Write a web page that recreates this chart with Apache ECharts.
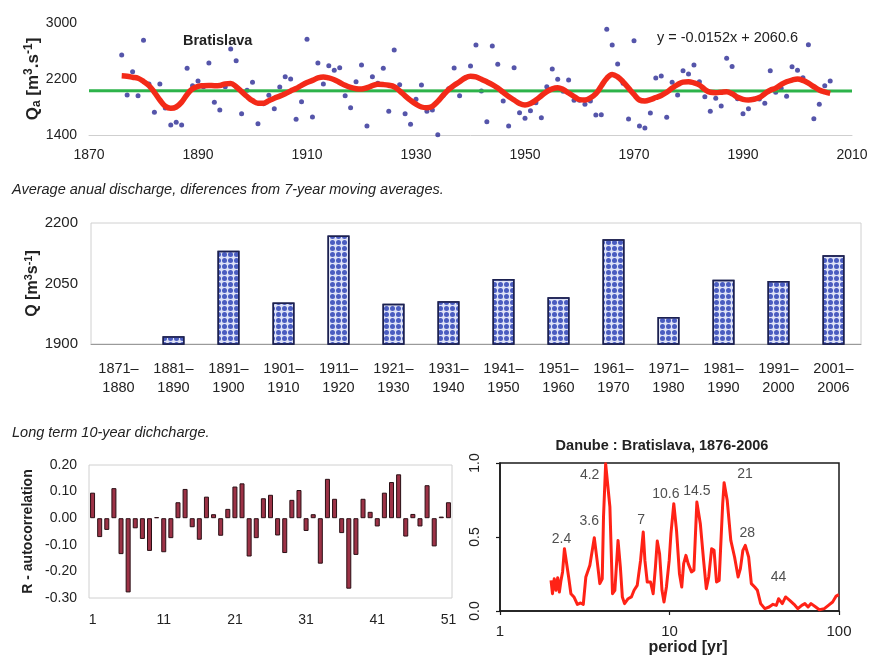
<!DOCTYPE html>
<html>
<head>
<meta charset="utf-8">
<script src="https://cdn.jsdelivr.net/npm/echarts@6/dist/echarts.min.js"></script>
<style>
  html, body { margin: 0; padding: 0; background: #ffffff; }
  #chart { width: 874px; height: 658px; }
</style>
</head>
<body>
<div id="chart"></div>
<script>
// ---------- Annual discharge, Danube at Bratislava ----------
const firstYear = 1876;
const annualQ = [
  2543, 1971, 2304, 1962, 2753, 2129, 1724, 2129, 1786, 1543,   // 1876-1885
  1581, 1543, 2352, 2105, 2171, 2090, 2428, 1867, 1757, 2090,   // 1886-1895
  2628, 2461, 1705, 2040, 2152, 1562, 1848, 1967, 1776, 2086,   // 1896-1905
  2233, 2200, 1624, 1876, 2767, 1657, 2428, 2129, 2390, 2324,   // 1906-1915
  2362, 1962, 1790, 2162, 2400, 1529, 2233, 2138, 2352, 1738,   // 1916-1925
  2614, 2119, 1705, 1552, 1910, 2114, 1738, 1757, 1405, 1967,   // 1926-1935
  2062, 2357, 1962, 2214, 2386, 2686, 2030, 1590, 2671, 2410,   // 1936-1945
  1886, 1529, 2362, 1719, 1638, 1748, 1860, 1648, 2090, 2343,   // 1946-1955
  2195, 2024, 2186, 1895, 1895, 1838, 1886, 1686, 1690, 2910,   // 1956-1965
  2686, 2414, 2140, 1629, 2747, 1529, 1500, 1714, 2214, 2243,   // 1966-1975
  1652, 2152, 1971, 2319, 2271, 2400, 2160, 1945, 1738, 1924,   // 1976-1985
  1816, 2495, 2380, 1919, 1705, 1776, 1910, 1914, 1852, 2319,   // 1986-1995
  2012, 2067, 1952, 2376, 2324, 2219, 2690, 1633, 1838, 2102,   // 1996-2005
  2173                                                          // 2006
];
// 7-year moving average of the annual series
const movingAvg = [
  2247, 2240, 2225, 2210, 2165, 2105, 2010, 1900, 1810, 1782,
  1800, 1870, 1980, 2060, 2095, 2105, 2108, 2105, 2108, 2130,
  2135, 2090, 2020, 1950, 1890, 1855, 1855, 1890, 1925, 1955,
  1990, 2030, 2065, 2110, 2150, 2180, 2215, 2229, 2215, 2190,
  2150, 2110, 2080, 2062, 2057, 2075, 2105, 2124, 2120, 2110,
  2090, 2030, 1960, 1895, 1840, 1800, 1790, 1810, 1880, 1970,
  2050, 2110, 2160, 2215, 2240, 2230, 2195, 2160, 2120, 2070,
  2010, 1950, 1900, 1850, 1829, 1850, 1900, 1960, 2020, 2060,
  2076, 2050, 2000, 1950, 1905, 1900, 1930, 1990, 2100, 2210,
  2265, 2230, 2160, 2070, 1980, 1900, 1885, 1905, 1935, 1965,
  2010, 2070, 2120, 2155, 2162, 2145, 2114, 2050, 2010, 2005,
  2012, 2019, 1990, 1940, 1910, 1900, 1910, 1935, 1990, 2040,
  2070, 2120, 2160, 2185, 2200, 2180, 2140, 2090, 2043, 2015,
  1995
];
// linear trend fitted to the annual series
const trendSlope = -0.0152;
const trendIntercept = 2060.6;
const yearAxisRange = [1870, 2010];

// ---------- Decade means ----------
const decades = [
  '1871–\n1880', '1881–\n1890', '1891–\n1900', '1901–\n1910', '1911–\n1920',
  '1921–\n1930', '1931–\n1940', '1941–\n1950', '1951–\n1960', '1961–\n1970',
  '1971–\n1980', '1981–\n1990', '1991–\n2000', '2001–\n2006'
];
const decadeQ = [null, 1919, 2131, 2003, 2169, 2000, 2006, 2061, 2016, 2160, 1967, 2059, 2056, 2120];

// ---------- Autocorrelation of annual discharge, lags 1-51 ----------
const lags = Array.from({ length: 51 }, (_, i) => String(i + 1));
const acf = [
   0.096, -0.071, -0.044,  0.113, -0.135, -0.279, -0.038, -0.078, -0.123,  0.004,
  -0.128, -0.075,  0.060,  0.110, -0.034, -0.081,  0.081,  0.015, -0.066,  0.035,
   0.119,  0.131, -0.144, -0.075,  0.075,  0.088, -0.065, -0.131,  0.069,  0.106,
  -0.048,  0.015, -0.171,  0.148,  0.073, -0.056, -0.265, -0.138,  0.073,  0.024,
  -0.031,  0.096,  0.136,  0.165, -0.069,  0.016, -0.031,  0.124, -0.106,  0.006,
   0.060
];

// ---------- Normalised spectrum vs period ----------
const periods = [
  2.00, 2.04, 2.09, 2.14, 2.19, 2.24, 2.29, 2.34, 2.40, 2.54,
  2.62, 2.73, 2.86, 2.99, 3.10, 3.21, 3.39, 3.60, 3.74, 3.88,
  4.01, 4.08, 4.20, 4.45, 4.61, 4.76, 4.97, 5.13, 5.27, 5.43,
  5.70, 5.96, 6.18, 6.45, 6.75, 7.00, 7.16, 7.39, 7.73, 8.01,
  8.26, 8.47, 8.74, 9.03, 9.28, 9.59, 9.96, 10.2, 10.6, 11.0,
  11.45, 11.81, 12.12, 12.50, 12.89, 13.48, 13.93, 14.5, 15.2, 15.89,
  16.49, 17.03, 17.73, 18.32, 18.94, 19.63, 20.0, 20.6, 21.0, 21.9,
  23.0, 24.2, 25.4, 26.2, 27.1, 28.0, 29.3, 30.4, 31.8, 33.0,
  34.5, 36.5, 38.7, 40.8, 42.7, 44.0, 46.3, 48.4, 51.2, 54.3,
  57.2, 60.3, 62.9, 65.7, 68.4, 72.9, 76.6, 81.9, 86.6, 91.7,
  96.2, 99.8
];
const power = [
  0.207, 0.117, 0.218, 0.140, 0.225, 0.128, 0.207, 0.264, 0.421, 0.230,
  0.117, 0.095, 0.045, 0.054, 0.045, 0.230, 0.309, 0.495, 0.342, 0.185,
  0.218, 0.635, 0.995, 0.703, 0.117, 0.140, 0.477, 0.297, 0.095, 0.050,
  0.083, 0.095, 0.140, 0.173, 0.342, 0.534, 0.342, 0.196, 0.196, 0.117,
  0.297, 0.473, 0.387, 0.140, 0.061, 0.162, 0.342, 0.523, 0.725, 0.545,
  0.252, 0.162, 0.320, 0.376, 0.320, 0.264, 0.275, 0.736, 0.590, 0.342,
  0.151, 0.230, 0.421, 0.410, 0.196, 0.207, 0.410, 0.725, 0.867, 0.748,
  0.477, 0.365, 0.230, 0.286, 0.410, 0.444, 0.365, 0.185, 0.162, 0.140,
  0.050, 0.016, 0.027, 0.045, 0.038, 0.083, 0.050, 0.095, 0.072, 0.045,
  0.016, 0.038, 0.050, 0.027, 0.050, 0.027, 0.009, 0.016, 0.038, 0.061,
  0.101, 0.110
];
const peakPeriods = [2.4, 3.6, 4.2, 7, 10.6, 14.5, 21, 28, 44];

// ---------- drawing ----------
const FONT = '"Liberation Sans", Arial, Helvetica, sans-serif';
const INK = '#222222';
const plain = v => String(v);

// pixel nudges of the peak captions relative to the peak they name
const peakLabelOffset = {
  2.4: [-3, -10], 3.6: [-5, -17], 4.2: [-16, 11], 7: [-2, -12], 10.6: [-8, -10],
  14.5: [0, -11], 21: [21, -9], 28: [2, -12], 44: [0, -22]
};

const annualPoints = annualQ.map((q, i) => [firstYear + i, q]);
const avgPoints = movingAvg.map((q, i) => [firstYear + i, q]);
const trendPoints = yearAxisRange.map(y => [y, trendIntercept + trendSlope * y]);
const spectrum = periods.map((p, i) => [p, power[i]]);
const peakPoints = peakPeriods.map(p => {
  const i = periods.indexOf(p);
  const v = i >= 0 ? power[i] : 0;
  return { value: [p, v], label: { offset: peakLabelOffset[p] } };
});

const equationText = 'y = ' + trendSlope.toFixed(4) + 'x + ' + trendIntercept.toFixed(1);

function titleRich(size) {
  return {
    b: { fontSize: size, fontWeight: 'bold', fontFamily: FONT, color: INK, lineHeight: size + 3 },
    sup: { fontSize: size - 5, fontWeight: 'bold', fontFamily: FONT, color: INK, verticalAlign: 'top', lineHeight: size + 3 },
    sub: { fontSize: size - 5, fontWeight: 'bold', fontFamily: FONT, color: INK, verticalAlign: 'bottom', lineHeight: size + 3 }
  };
}

const chart = echarts.init(document.getElementById('chart'));
chart.setOption({
  animation: false,
  backgroundColor: '#ffffff',
  textStyle: { fontFamily: FONT, color: INK },
  grid: [
    { left: 89, top: 23, width: 763, height: 112 },
    { left: 91, top: 223, width: 770, height: 121, show: true, borderColor: '#d0d0d0', borderWidth: 1 },
    { left: 89, top: 465, width: 363, height: 133, show: true, borderColor: '#d0d0d0', borderWidth: 1 },
    { left: 500, top: 463, width: 339, height: 148, show: true, borderColor: '#1a1a1a', borderWidth: 1.5 }
  ],
  xAxis: [
    {
      gridIndex: 0, type: 'value', min: yearAxisRange[0], max: yearAxisRange[1], interval: 20,
      axisLine: { show: true, lineStyle: { color: '#cfcfcf', width: 1 } },
      axisTick: { show: false }, splitLine: { show: false },
      axisLabel: { fontSize: 14, color: INK, margin: 13, formatter: plain }
    },
    {
      gridIndex: 1, type: 'category', data: decades,
      axisLine: { show: true, lineStyle: { color: '#9a9a9a', width: 1 } },
      axisTick: { show: false },
      axisLabel: { fontSize: 14.5, color: INK, margin: 15, lineHeight: 19, interval: 0 }
    },
    {
      gridIndex: 2, type: 'category', data: lags,
      axisLine: { show: false }, axisTick: { show: false },
      axisLabel: { fontSize: 14, color: INK, margin: 15, interval: 9 }
    },
    {
      gridIndex: 3, type: 'log', logBase: 10, min: 1, max: 100,
      axisLine: { show: true, onZero: false, lineStyle: { color: '#1a1a1a', width: 1.5 } },
      axisTick: { show: true, inside: false, length: 4, lineStyle: { color: '#1a1a1a', width: 1.2 } },
      minorTick: { show: false }, splitLine: { show: false },
      axisLabel: { fontSize: 15, color: INK, margin: 13, formatter: plain }
    }
  ],
  yAxis: [
    {
      gridIndex: 0, type: 'value', min: 1400, max: 3000, interval: 800,
      axisLine: { show: false }, axisTick: { show: false }, splitLine: { show: false },
      axisLabel: { fontSize: 14, color: INK, margin: 12, formatter: plain },
      name: '{b|Q}{sub|a}{b| [m}{sup|3}{b|.s}{sup|-1}{b|]}',
      nameLocation: 'middle', nameRotate: 90, nameGap: 46, nameMoveOverlap: false,
      nameTextStyle: { rich: titleRich(17) }
    },
    {
      gridIndex: 1, type: 'value', min: 1900, max: 2200, interval: 150,
      axisLine: { show: false }, axisTick: { show: false }, splitLine: { show: false },
      axisLabel: { fontSize: 15, color: INK, margin: 13, formatter: plain },
      name: '{b|Q [m}{sup|3}{b|s}{sup|-1}{b|]}',
      nameLocation: 'middle', nameRotate: 90, nameGap: 49, nameMoveOverlap: false,
      nameTextStyle: { rich: titleRich(16) }
    },
    {
      gridIndex: 2, type: 'value', min: -0.3, max: 0.2, interval: 0.1,
      axisLine: { show: false }, axisTick: { show: false }, splitLine: { show: false },
      axisLabel: { fontSize: 14, color: INK, margin: 12, formatter: v => v.toFixed(2) },
      name: 'R - autocorrelation', nameLocation: 'middle', nameRotate: 90, nameGap: 54, nameMoveOverlap: false,
      nameTextStyle: { fontSize: 14, fontWeight: 'bold', color: INK }
    },
    {
      gridIndex: 3, type: 'value', min: 0, max: 1, interval: 0.5,
      axisLine: { show: true, lineStyle: { color: '#1a1a1a', width: 1.5 } },
      axisTick: { show: true, inside: false, length: 4, lineStyle: { color: '#1a1a1a', width: 1.2 } },
      splitLine: { show: false },
      axisLabel: { fontSize: 14, color: INK, margin: 18, rotate: 90, formatter: v => v.toFixed(1) }
    }
  ],
  series: [
    {
      type: 'scatter', xAxisIndex: 0, yAxisIndex: 0, data: annualPoints,
      symbol: 'circle', symbolSize: 5, itemStyle: { color: '#2a2a95' }, z: 2
    },
    {
      type: 'line', xAxisIndex: 0, yAxisIndex: 0, data: trendPoints,
      symbol: 'none', lineStyle: { color: '#2db34a', width: 3 }, z: 3
    },
    {
      type: 'line', xAxisIndex: 0, yAxisIndex: 0, data: avgPoints, smooth: 0.4,
      symbol: 'none', lineStyle: { color: '#f32a18', width: 5.5 }, z: 4
    },
    {
      type: 'bar', xAxisIndex: 1, yAxisIndex: 1, data: decadeQ, barWidth: 22,
      itemStyle: {
        color: '#dfe3f6', borderColor: '#1c2150', borderWidth: 1.5,
        decal: { symbol: 'circle', symbolSize: 1, color: '#4a5cc0', dashArrayX: [5, 1], dashArrayY: [5, 1], rotation: 0 }
      }
    },
    {
      type: 'bar', xAxisIndex: 2, yAxisIndex: 2, data: acf, barWidth: 5,
      itemStyle: { color: '#9c3246', borderColor: '#2a0f15', borderWidth: 1 }
    },
    {
      type: 'line', xAxisIndex: 3, yAxisIndex: 3, data: spectrum, smooth: false,
      symbol: 'none', lineStyle: { color: '#ff2216', width: 3, join: 'round' }, z: 3
    },
    {
      type: 'scatter', xAxisIndex: 3, yAxisIndex: 3, data: peakPoints, symbolSize: 0,
      label: {
        show: true, position: 'inside', fontSize: 14, color: INK,
        formatter: p => String(p.value[0])
      }, z: 5
    }
  ],
  graphic: [
    { type: 'text', left: 183, top: 33, style: { text: 'Bratislava', font: 'bold 14.5px ' + FONT, fill: INK } },
    { type: 'text', left: 657, top: 30, style: { text: equationText, font: '14.5px ' + FONT, fill: INK } },
    { type: 'text', left: 12, top: 182, style: { text: 'Average anual discharge, diferences from 7-year moving averages.', font: 'italic 14.5px ' + FONT, fill: INK } },
    { type: 'text', left: 12, top: 425, style: { text: 'Long term 10-year dichcharge.', font: 'italic 14.5px ' + FONT, fill: INK } },
    { type: 'text', x: 662, y: 446, style: { text: 'Danube : Bratislava, 1876-2006', font: 'bold 14.5px ' + FONT, fill: INK, align: 'center', verticalAlign: 'middle' } },
    { type: 'text', x: 688, y: 648, style: { text: 'period [yr]', font: 'bold 16px ' + FONT, fill: INK, align: 'center', verticalAlign: 'middle' } }
  ]
});
</script>
</body>
</html>
